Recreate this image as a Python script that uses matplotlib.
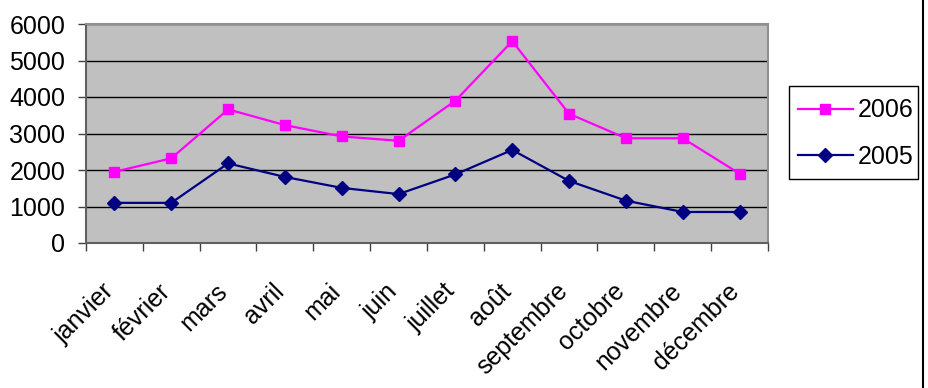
#!/usr/bin/env python3
"""Monthly totals 2005 vs 2006, Excel-style line chart."""

import matplotlib
matplotlib.use('Agg')
import matplotlib.pyplot as plt
import matplotlib.transforms as mtransforms
from matplotlib.lines import Line2D
from matplotlib.patches import Rectangle

### Data

MONTHS = ['janvier', 'février', 'mars', 'avril', 'mai', 'juin', 'juillet',
          'août', 'septembre', 'octobre', 'novembre', 'décembre']
VALUES_2006 = [1950, 2320, 3660, 3230, 2920, 2800, 3900, 5530, 3540, 2870, 2870, 1900]
VALUES_2005 = [1100, 1100, 2180, 1810, 1510, 1340, 1880, 2550, 1700, 1160, 850, 850]
YTICKS = [0, 1000, 2000, 3000, 4000, 5000, 6000]

### Style

plt.rcParams['font.family'] = ['Liberation Sans', 'DejaVu Sans']
FONT_SIZE = 18

fig = plt.figure(figsize=(9.29, 3.88), dpi=100)
# axes box in pixels: x 86..768, y 24..243 (from top)
W, H = 929, 388
ax = fig.add_axes([86 / W, 1 - 243 / H, (768 - 86) / W, (243 - 24) / H])
ax.set_facecolor('#C0C0C0')

x = range(len(MONTHS))
ax.plot(x, VALUES_2006, color='#FF00FF', lw=1.6, marker='s', ms=7.5,
        label='2006', zorder=3)
ax.plot(x, VALUES_2005, color='#000080', lw=1.6, marker='D', ms=7,
        label='2005', zorder=3)

ax.set_xlim(-0.5, len(MONTHS) - 0.5)
ax.set_ylim(0, 6000)
ax.set_yticks(YTICKS)
ax.set_yticklabels([str(v) for v in YTICKS], fontsize=FONT_SIZE)
ax.yaxis.grid(True, color='black', lw=1)
ax.set_axisbelow(True)

# category boundaries carry the tick marks, labels sit at the centres
ax.set_xticks([i - 0.5 for i in range(len(MONTHS) + 1)])
ax.set_xticklabels([])
ax.set_xticks(list(x), minor=True)
ax.set_xticklabels(MONTHS, minor=True, rotation=45, ha='right', va='top',
                   rotation_mode='anchor', fontsize=FONT_SIZE)
ax.tick_params(axis='x', which='minor', length=0, pad=26)
ax.tick_params(axis='x', which='major', length=6, width=1, color='#404040')
ax.tick_params(axis='y', length=6, width=1, color='#404040', pad=9)

# nudge rotated month labels a little to the left, like Excel does
shift = mtransforms.ScaledTranslation(-13 / 100, 0, fig.dpi_scale_trans)
for lbl in ax.get_xticklabels(minor=True):
    lbl.set_transform(lbl.get_transform() + shift)

for side in ['left', 'bottom']:
    ax.spines[side].set_color('#606060')
    ax.spines[side].set_linewidth(1.5)
for side in ['top', 'right']:
    ax.spines[side].set_color('#909090')
    ax.spines[side].set_linewidth(1.5)

# legend: 2006 on top, as in the reference; box drawn separately
leg = ax.legend(loc='center left', bbox_to_anchor=(798 / W, 1 - 133.5 / H),
                bbox_transform=fig.transFigure, fontsize=FONT_SIZE, frameon=False,
                handlelength=2.2, borderpad=0, labelspacing=0.9,
                handletextpad=0.2, borderaxespad=0)
fig.add_artist(Rectangle((789 / W, 1 - 179 / H), (918 - 789) / W, (179 - 86) / H,
                         transform=fig.transFigure, fill=False,
                         edgecolor='black', lw=1))

# right border of the chart area
fig.add_artist(Line2D([923 / W, 923 / W], [0, 1], color='black', lw=1.5))

fig.savefig('out.png', dpi=100)
